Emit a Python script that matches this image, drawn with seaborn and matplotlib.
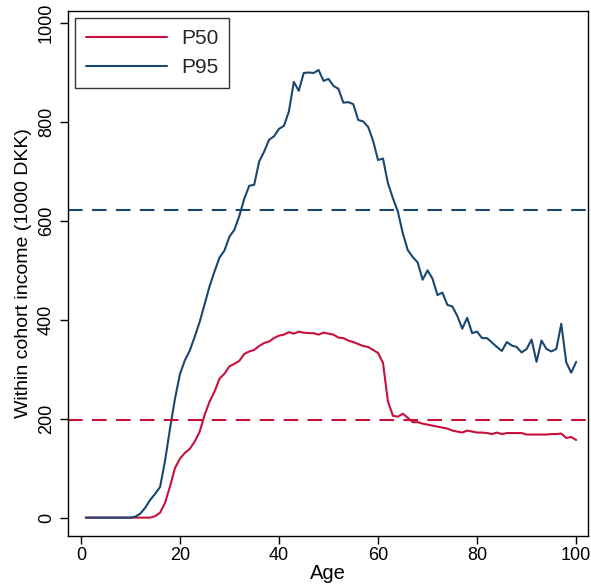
import pandas as pd
import seaborn as sns
import matplotlib.pyplot as plt

ages = list(range(1, 101))

p95 = [0, 0, 0, 0, 0, 0, 0, 0, 0, 0,
       2, 8, 20, 36, 48, 62, 115, 180, 240, 290,
       318, 338, 366, 396, 432, 468, 498, 526, 540, 568,
       582, 610, 645, 671, 673, 720, 740, 764, 771, 786,
       792, 821, 881, 863, 899, 900, 899, 905, 883, 887,
       873, 867, 839, 840, 836, 804, 801, 790, 762, 723,
       726, 676, 646, 619, 575, 541, 527, 516, 481, 500,
       483, 450, 455, 430, 427, 408, 382, 404, 373, 376,
       363, 363, 354, 345, 337, 355, 348, 345, 334, 341,
       360, 315, 358, 341, 336, 341, 392, 314, 293, 315]

p50 = [0, 0, 0, 0, 0, 0, 0, 0, 0, 0,
       0, 0, 0, 0, 3, 10, 30, 63, 100, 119,
       131, 139, 154, 174, 208, 235, 255, 281, 291, 306,
       311, 317, 331, 336, 339, 347, 353, 356, 363, 368,
       370, 375, 372, 376, 374, 373, 373, 370, 374, 372,
       370, 364, 363, 358, 355, 351, 347, 345, 339, 333,
       313, 235, 206, 204, 210, 202, 193, 193, 190, 188,
       186, 184, 182, 180, 176, 174, 172, 176, 174, 172,
       172, 171, 169, 172, 169, 171, 171, 171, 171, 168,
       168, 168, 168, 168, 169, 169, 170, 161, 163, 157]

mean_p50 = 198
mean_p95 = 621

red = "#c8103c"
blue = "#1a476f"

df = pd.DataFrame({"Age": ages * 2,
                   "income": p50 + p95,
                   "series": ["P50"] * 100 + ["P95"] * 100})

sns.set_style("white")
plt.rcParams["font.family"] = ["Liberation Sans", "DejaVu Sans"]

fig = plt.figure(figsize=(5.91, 5.87), dpi=100)
ax = fig.add_axes([0.115, 0.087, 0.88, 0.894])

sns.lineplot(data=df, x="Age", y="income", hue="series",
             palette={"P50": red, "P95": blue}, linewidth=1.5, ax=ax)
ax.axhline(mean_p50, color=red, linestyle=(0, (7, 4.5)), linewidth=1.5)
ax.axhline(mean_p95, color=blue, linestyle=(0, (7, 4.5)), linewidth=1.5)

ax.set_xlim(-2.6, 102.4)
ax.set_ylim(-37, 1024)
ax.set_xticks([0, 20, 40, 60, 80, 100])
ax.set_yticks([0, 200, 400, 600, 800, 1000])
ax.tick_params(axis="both", direction="out", length=6, width=1,
               labelsize=13, colors="black", bottom=True, left=True)
ax.tick_params(axis="x", pad=2)
ax.tick_params(axis="y", labelrotation=90)
for lab in ax.get_yticklabels():
    lab.set_va("center")
for s in ax.spines.values():
    s.set_color("black")
    s.set_linewidth(1)

ax.set_xlabel("Age", fontsize=14.5, labelpad=0, color="black")
ax.set_ylabel("Within cohort income (1000 DKK)", fontsize=14, labelpad=4,
              color="black")

leg = ax.legend(loc="upper left", fontsize=15, handlelength=3.9,
                frameon=True, fancybox=False, edgecolor="black",
                borderpad=0.5, labelspacing=0.5, handletextpad=0.7,
                borderaxespad=0.35)
leg.get_frame().set_linewidth(1)

fig.savefig("out.png", dpi=100)
